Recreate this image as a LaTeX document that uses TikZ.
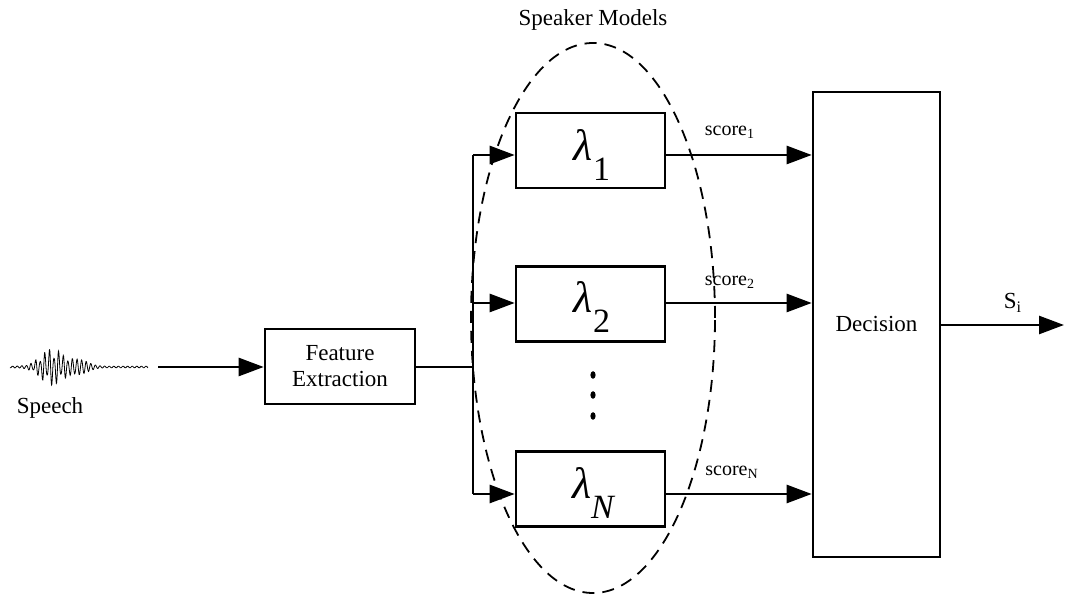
\documentclass[tikz,border=0pt]{standalone}
\usepackage{fontspec}
\setmainfont{Liberation Serif}
\usetikzlibrary{arrows.meta,calc}
\tikzset{
  line/.style={line width=1.3pt},
  arr/.style={line width=1.3pt,-{Triangle[length=12.5pt,width=9pt]}},
  blk/.style={draw,line width=1.3pt,inner sep=0pt,align=center,font=\fontsize{11.5}{13}\selectfont},
  mbox/.style={blk,minimum width=74.5pt,minimum height=37.5pt},
  lam/.style={inner sep=0pt},
  txt/.style={inner sep=0pt,font=\fontsize{11.5}{13}\selectfont},
  sc/.style={inner sep=0pt,font=\fontsize{10}{12}\selectfont},
}
\newcommand{\lamsub}[1]{{\fontsize{22}{22}\selectfont\itshape λ}\raisebox{-10pt}{\fontsize{17}{17}\selectfont #1}}
\begin{document}
\begin{tikzpicture}[x=0.5pt,y=-0.5pt]
\useasboundingbox (0,0) rectangle (1066,597);
% speech waveform
\draw[line width=0.4pt] plot[domain=10:148,samples=400] (\x,{367 + (0.8+20*exp(-((\x-52)/16)^2)*(0.7+0.3*sin(deg(\x*0.9))) + 6*exp(-((\x-80)/12)^2))*sin(deg(\x*2*pi/4.6))});
\node[txt] (speech) at (50,408) {Speech};
\coordinate (sp) at (158,367);
% feature extraction
\node[blk,minimum width=75pt,minimum height=37.5pt] (fe) at (340,366.5) {Feature\\Extraction};
\draw[arr] (sp) -- (sp -| fe.west);
% junction
\coordinate (j) at (473,367);
\coordinate (j1) at (473,155);
\coordinate (j2) at (473,303);
\coordinate (jN) at (473,494);
\draw[line] (fe.east |- j) -- (j);
\draw[line] (j1) -- (jN);
% speaker models
\node[mbox] (l1) at (590.5,150.5) {};
\node[mbox] (l2) at (590.5,304) {};
\node[mbox] (lN) at (590.5,489) {};
\node[lam] (t1) at (592,155) {\lamsub{1}};
\node[lam] (t2) at (592,307) {\lamsub{2}};
\node[lam] (tN) at (593,493) {\lamsub{\itshape N}};
\draw[arr] (j1) -- (j1 -| l1.west);
\draw[arr] (j2) -- (j2 -| l2.west);
\draw[arr] (jN) -- (jN -| lN.west);
\foreach \yy/\nm in {375/d1,395/d2,416/d3}
  \fill (593,\yy) ellipse [x radius=1.3pt, y radius=1.9pt];
% ellipse
\draw[line width=0.9pt,dash pattern=on 6pt off 4pt] (593,318) ellipse [x radius=61pt, y radius=137.5pt];
\node[txt] (sm) at (593,20) {Speaker Models};
% decision
\node[blk,minimum width=63.5pt,minimum height=232.5pt] (dec) at (876.5,324.5) {Decision};
\draw[arr] (l1.east |- j1) -- (j1 -| dec.west);
\draw[arr] (l2.east |- j2) -- (j2 -| dec.west);
\draw[arr] (lN.east |- jN) -- (jN -| dec.west);
\node[sc] (s1) at (730,132) {score\textsubscript{1}};
\node[sc] (s2) at (730,282) {score\textsubscript{2}};
\node[sc] (sN) at (732,472) {score\textsubscript{N}};
\coordinate (out) at (1064,325);
\draw[arr] (dec.east |- out) -- (out);
\node[txt] (si) at (1013,303) {S\textsubscript{i}};
\end{tikzpicture}
\end{document}
